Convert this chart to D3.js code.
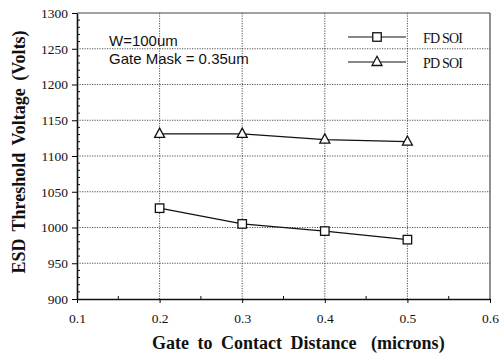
<!DOCTYPE html>
<html>
<head>
<meta charset="utf-8">
<script src="https://cdn.jsdelivr.net/npm/d3@7"></script>
<style>
  body { margin: 0; background: #fff; }
  svg { display: block; }
</style>
</head>
<body>
<div id="chart"></div>
<script>
// Data
const distances = [0.2, 0.3, 0.4, 0.5];
const fdSoi = [1027, 1005, 995, 983];
const pdSoi = [1131, 1131, 1123, 1120];
const xTicks = [0.1, 0.2, 0.3, 0.4, 0.5, 0.6];
const yTicks = [900, 950, 1000, 1050, 1100, 1150, 1200, 1250, 1300];
const seriesNames = ['FD SOI', 'PD SOI'];
const notes = ['W=100um', 'Gate Mask = 0.35um'];

const serif = '"Liberation Serif", "Times New Roman", serif';
const sans = '"Liberation Sans", Arial, sans-serif';

const width = 503, height = 354;
const margin = { top: 13, right: 13, bottom: 55, left: 77 };
const innerW = width - margin.left - margin.right;
const innerH = height - margin.top - margin.bottom;

const svg = d3.select('#chart').append('svg')
  .attr('width', width)
  .attr('height', height);

const g = svg.append('g').attr('transform', `translate(${margin.left},${margin.top})`);

const x = d3.scaleLinear().domain([0.1, 0.6]).range([0, innerW]);
const y = d3.scaleLinear().domain([900, 1300]).range([innerH, 0]);

// dotted grid
g.append('g').selectAll('line')
  .data(xTicks.slice(1, -1))
  .join('line')
  .attr('x1', d => x(d)).attr('x2', d => x(d))
  .attr('y1', 0).attr('y2', innerH)
  .attr('stroke', '#222').attr('stroke-width', 0.8)
  .attr('stroke-dasharray', '1.2,1.3');
g.append('g').selectAll('line')
  .data(yTicks.slice(1, -1))
  .join('line')
  .attr('x1', 0).attr('x2', innerW)
  .attr('y1', d => y(d)).attr('y2', d => y(d))
  .attr('stroke', '#222').attr('stroke-width', 0.8)
  .attr('stroke-dasharray', '1.2,1.3');

// frame (top / right thin)
g.append('line').attr('x1', 0).attr('x2', innerW).attr('y1', 0).attr('y2', 0)
  .attr('stroke', '#444').attr('stroke-width', 1.2);
g.append('line').attr('x1', innerW).attr('x2', innerW).attr('y1', 0).attr('y2', innerH)
  .attr('stroke', '#222').attr('stroke-width', 1);

// minor ticks inside
const yMinor = d3.range(910, 1300, 10).filter(v => v % 50 !== 0);
g.append('g').selectAll('line')
  .data(yMinor)
  .join('line')
  .attr('x1', 0).attr('x2', 3)
  .attr('y1', d => y(d)).attr('y2', d => y(d))
  .attr('stroke', '#111').attr('stroke-width', 1);
const xMinor = [0.15, 0.25, 0.35, 0.45, 0.55];
g.append('g').selectAll('line')
  .data(xMinor)
  .join('line')
  .attr('x1', d => x(d)).attr('x2', d => x(d))
  .attr('y1', innerH).attr('y2', innerH - 3)
  .attr('stroke', '#111').attr('stroke-width', 1);

// axes
const xAxis = d3.axisBottom(x)
  .tickValues(xTicks)
  .tickFormat(d3.format('.1f'))
  .tickSize(4)
  .tickSizeOuter(0)
  .tickPadding(10);
const xAxisG = g.append('g')
  .attr('transform', `translate(0,${innerH})`)
  .call(xAxis);
xAxisG.select('.domain').attr('stroke', '#111').attr('stroke-width', 1.6);

const yAxis = d3.axisLeft(y)
  .tickValues(yTicks)
  .tickFormat(d3.format('d'))
  .tickSize(5)
  .tickSizeOuter(0)
  .tickPadding(4);
const yAxisG = g.append('g').call(yAxis);
yAxisG.select('.domain').attr('stroke', '#111').attr('stroke-width', 1.6);

[xAxisG, yAxisG].forEach(ax => {
  ax.attr('font-family', null).attr('font-size', null);
  ax.selectAll('.tick text')
    .style('font-family', serif)
    .style('font-size', '13.5px')
    .attr('fill', '#111');
});

// series lines
const line = d3.line().x(d => x(d[0])).y(d => y(d[1]));
const fdPts = distances.map((d, i) => [d, fdSoi[i]]);
const pdPts = distances.map((d, i) => [d, pdSoi[i]]);

[fdPts, pdPts].forEach(pts => {
  g.append('path')
    .datum(pts)
    .attr('d', line)
    .attr('fill', 'none')
    .attr('stroke', '#111')
    .attr('stroke-width', 1.3);
});

const sq = 8.5;
const triPath = 'M0,-5.2L5,4L-5,4Z';

g.append('g').selectAll('rect')
  .data(fdPts)
  .join('rect')
  .attr('x', d => x(d[0]) - sq / 2)
  .attr('y', d => y(d[1]) - sq / 2)
  .attr('width', sq).attr('height', sq)
  .attr('fill', '#fff').attr('stroke', '#111').attr('stroke-width', 1.3);

g.append('g').selectAll('path')
  .data(pdPts)
  .join('path')
  .attr('transform', d => `translate(${x(d[0])},${y(d[1]) - 0.5})`)
  .attr('d', triPath)
  .attr('fill', '#fff').attr('stroke', '#111').attr('stroke-width', 1.3);

// legend
const legend = g.append('g');
seriesNames.forEach((name, i) => {
  const ly = 24 + i * 25;
  legend.append('line')
    .attr('x1', 271).attr('x2', 329)
    .attr('y1', ly).attr('y2', ly)
    .attr('stroke', '#111').attr('stroke-width', 1.2);
  if (i === 0) {
    legend.append('rect')
      .attr('x', 300 - sq / 2).attr('y', ly - sq / 2)
      .attr('width', sq).attr('height', sq)
      .attr('fill', '#fff').attr('stroke', '#111').attr('stroke-width', 1.3);
  } else {
    legend.append('path')
      .attr('transform', `translate(300,${ly - 0.5})`)
      .attr('d', triPath)
      .attr('fill', '#fff').attr('stroke', '#111').attr('stroke-width', 1.3);
  }
  legend.append('text')
    .attr('x', 346).attr('y', ly + 6)
    .attr('font-family', serif)
    .attr('font-size', 14)
    .attr('letter-spacing', -0.8)
    .attr('fill', '#111')
    .text(name);
});

// annotation
notes.forEach((t, i) => {
  g.append('text')
    .attr('x', 32).attr('y', 32.7 + i * 18.3)
    .attr('font-family', sans)
    .attr('font-size', 15)
    .attr('fill', '#111')
    .text(t);
});

// axis titles
const xTitle = svg.append('text')
  .attr('x', 152)
  .attr('y', 349)
  .attr('font-family', serif)
  .attr('font-weight', 'bold')
  .attr('font-size', 18)
  .attr('word-spacing', 4)
  .attr('fill', '#111');
xTitle.append('tspan').text('Gate to Contact Distance');
xTitle.append('tspan').attr('dx', 6).text(' (microns)');

svg.append('text')
  .attr('transform', `translate(25, 152) rotate(-90)`)
  .attr('text-anchor', 'middle')
  .attr('font-family', serif)
  .attr('font-weight', 'bold')
  .attr('font-size', 18)
  .attr('word-spacing', 3)
  .attr('fill', '#111')
  .text('ESD Threshold Voltage (Volts)');
</script>
</body>
</html>
